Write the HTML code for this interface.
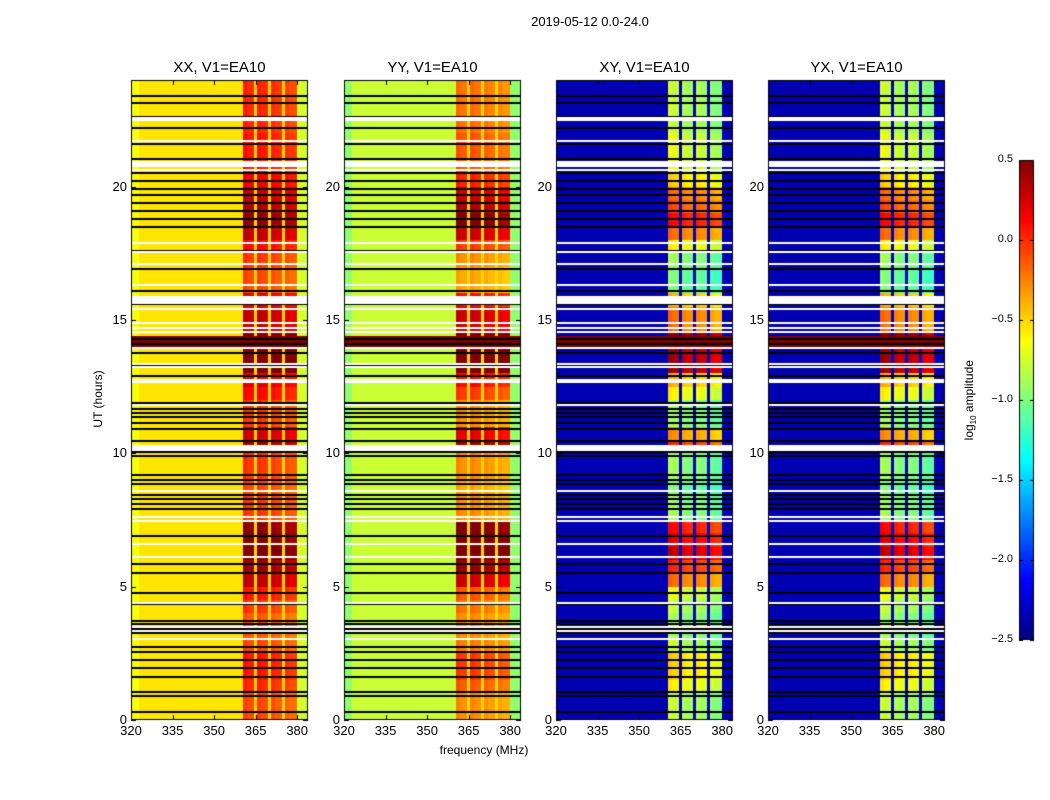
<!DOCTYPE html>
<html><head><meta charset="utf-8">
<style>
body{margin:0;background:#fff;font-family:"Liberation Sans",sans-serif;}
#wrap{position:relative;width:1050px;height:800px;overflow:hidden;background:#fff;}
canvas{position:absolute;left:0;top:0;}
.t{position:absolute;white-space:nowrap;color:#000;}
</style></head><body>
<div id="wrap">
<canvas id="cv" width="1050" height="800"></canvas>
<div class="t" style="left:0;width:1180px;top:14px;text-align:center;font-size:13px">2019-05-12 0.0-24.0</div>
<div class="t" style="left:131px;width:177px;top:59px;text-align:center;font-size:15px">XX, V1=EA10</div>
<div class="t" style="left:344px;width:177px;top:59px;text-align:center;font-size:15px">YY, V1=EA10</div>
<div class="t" style="left:556px;width:177px;top:59px;text-align:center;font-size:15px">XY, V1=EA10</div>
<div class="t" style="left:768px;width:177px;top:59px;text-align:center;font-size:15px">YX, V1=EA10</div>
<div class="t" style="left:384px;width:200px;top:743px;text-align:center;font-size:12px">frequency (MHz)</div>
<div class="t" style="left:48px;top:392px;width:100px;text-align:center;font-size:12px;transform:rotate(-90deg)">UT (hours)</div>
<div class="t" style="left:920px;top:392px;width:100px;text-align:center;font-size:12px;transform:rotate(-90deg)">log<sub style="font-size:8px">10</sub> amplitude</div>
<div id="labels"></div>
</div>
<script>
// ---- data ----
const panelNames = ["XX","YY","XY","YX"];
const xTicks = [320,335,350,365,380];
const yTicks = [0,5,10,15,20];
const cbTicks = [0.5,0.0,-0.5,-1.0,-1.5,-2.0,-2.5];
const cbTickLabels = ["0.5","0.0","\u22120.5","\u22121.0","\u22121.5","\u22122.0","\u22122.5"];
// in-band log amplitude per half hour (0..24h)
const bandXX = [-0.15,-0.15,-0.05,0,0,-0.15,-0.2,-0.2,-0.1,0,0.25,0.35,0.5,0.45,0.4,-0.1,-0.1,-0.15,-0.1,-0.1,0.35,0.2,-0.1,-0.1,0.05,0.15,0.55,0.55,0.6,0.25,0.25,0.15,-0.15,-0.15,-0.1,0.05,0.25,0.4,0.3,0.25,0.1,0,0,0,-0.05,-0.05,-0.05,-0.05];
const bandYY = [-0.35,-0.35,-0.2,-0.1,-0.1,-0.3,-0.35,-0.35,-0.27,-0.19,0.21,0.37,0.61,0.53,0.45,-0.35,-0.35,-0.43,-0.35,-0.35,0.37,0.13,-0.35,-0.35,-0.11,0.05,0.69,0.69,0.77,0.21,0.21,0.05,-0.43,-0.43,-0.35,-0.11,0.21,0.45,0.29,0.21,-0.03,-0.19,-0.19,-0.19,-0.27,-0.27,-0.27,-0.27];
const bandXY = [-0.9,-0.9,-0.7,-0.6,-0.6,-0.9,-1.0,-1.0,-0.9,-0.8,-0.3,-0.1,0.2,0.1,0.0,-1.0,-1.0,-1.1,-1.0,-1.0,-0.1,-0.4,-1.0,-1.0,-0.7,-0.5,0.3,0.3,0.4,-0.3,-0.3,-0.5,-1.1,-1.1,-1.0,-0.7,-0.3,0.0,-0.2,-0.3,-0.6,-0.8,-0.8,-0.8,-0.9,-0.9,-0.9,-0.9];
const bandYX = bandXY;
// background levels: [left edge (<323MHz), main, right (>380MHz)]
const bgXX = [-0.65,-0.55,-0.75];
const bgYY = [-0.95,-0.78,-0.95];
const bgXY = [-2.35,-2.35,-2.35];
const bgYX = [-2.35,-2.35,-2.35];
const subBands = [[360.5,364.5],[365.5,369.5],[370.5,374.5],[375.5,380]];
const subOffXX = [0.05,0.05,0,-0.05];
const subOffXY = [0.1,0,0,-0.1];
const gapXX = -0.5, gapXY = -2.3;
const hotRows = [[14.0,14.4]];
const hotValue = 0.5;
const blackLines = [0.3,0.9,1.05,1.6,1.95,2.25,2.55,2.75,3.05,3.25,3.4,3.5,3.6,3.7,4.35,4.75,5.5,5.85,6.1,6.9,7.45,7.6,7.9,8.1,8.3,8.45,8.6,8.85,9.0,9.2,9.9,10.05,10.45,10.9,11.15,11.35,11.5,11.65,11.9,12.9,13.3,13.75,14.1,14.3,15.6,16.1,16.9,17.6,18.5,18.8,19.1,19.4,19.7,19.9,20.2,20.5,21.05,21.6,22.2,22.6,23.15,23.4];
const whiteBands = [[22.45,22.6],[20.75,20.95],[20.6,20.65],[15.6,15.9],[12.65,12.78],[10.1,10.3]];
const whiteLines = [21.7,17.9,17.55,17.1,16.3,15.4,14.9,14.7,14.55,13.95,13.35,13.25,11.8,8.6,7.6,7.45,6.6,6.1,4.4,3.5,3.35,3.05];

// ---- layout ----
const panelX = [131,344,556,768], PT=80, PW=177, PH=640;
const PX_PER_MHZ = 2.77;
const xs = (p,f)=>panelX[p]+(f-320)*PX_PER_MHZ;
const ys = h=>PT+PH-h*PH/24;
const CB={x:1019,y:160,w:15,h:480,min:-2.5,max:0.5};
function jetArr(v){
  let t=(v+2.5)/3; t=Math.max(0,Math.min(1,t));
  const c=x=>Math.round(255*Math.max(0,Math.min(1,x)));
  return [c(1.5-Math.abs(4*t-3)),c(1.5-Math.abs(4*t-2)),c(1.5-Math.abs(4*t-1))];
}
const jet=v=>{const a=jetArr(v);return `rgb(${a[0]},${a[1]},${a[2]})`;};
const cv=document.getElementById('cv'),ctx=cv.getContext('2d');
const bands=[bandXX,bandYY,bandXY,bandYX], bgs=[bgXX,bgYY,bgXY,bgYX];
function cellValue(p,h,f){
  const cross=p>=2, sub=cross?subOffXY:subOffXX, gap=cross?gapXY:gapXX;
  for(const hr of hotRows){ if(h>=hr[0]&&h<hr[1]) return hotValue; }
  const r=Math.min(bands[p].length-1,Math.floor(h*2));
  let v = f<323?bgs[p][0]:(f>=380?bgs[p][2]:bgs[p][1]);
  if(f>=360.5&&f<380){
    const k=subBands.findIndex(b=>f>=b[0]&&f<b[1]);
    v = k<0 ? gap : bands[p][r]+sub[k]+((f-subBands[k][0])<1.5?0.05:0);
  }
  return v;
}
for(let p=0;p<4;p++){
  const img=ctx.createImageData(PW,PH);
  for(let py=0;py<PH;py++){
    const h=(PH-py-0.5)/PH*24;
    for(let px=0;px<PW;px++){
      const f=320+(px+0.5)/PX_PER_MHZ;
      const c=jetArr(cellValue(p,h,f));
      const i=(py*PW+px)*4;
      img.data[i]=c[0];img.data[i+1]=c[1];img.data[i+2]=c[2];img.data[i+3]=255;
    }
  }
  ctx.putImageData(img,panelX[p],PT);
  ctx.fillStyle='#000';
  blackLines.forEach(h=>ctx.fillRect(panelX[p],Math.round(ys(h))-1,PW,2));
  ctx.fillStyle='#fff';
  whiteBands.forEach(b=>{const y0=Math.round(ys(b[1])),y1=Math.round(ys(b[0]));ctx.fillRect(panelX[p],y0,PW,Math.max(2,y1-y0));});
  whiteLines.forEach(h=>ctx.fillRect(panelX[p],Math.round(ys(h))-1,PW,2));
  // frame & ticks
  ctx.strokeStyle='#000';ctx.lineWidth=1;
  ctx.strokeRect(panelX[p]+0.5,PT+0.5,PW-1,PH-1);
  ctx.beginPath();
  xTicks.forEach(t=>{const x=Math.round(xs(p,t))+0.5;ctx.moveTo(x,PT+PH);ctx.lineTo(x,PT+PH-5);ctx.moveTo(x,PT);ctx.lineTo(x,PT+5);});
  yTicks.forEach(t=>{const y=Math.round(ys(t))+0.5;ctx.moveTo(panelX[p],y);ctx.lineTo(panelX[p]+5,y);ctx.moveTo(panelX[p]+PW,y);ctx.lineTo(panelX[p]+PW-5,y);});
  ctx.stroke();
}
// colorbar
for(let i=0;i<CB.h;i++){const v=CB.max-(i+0.5)/CB.h*(CB.max-CB.min);ctx.fillStyle=jet(v);ctx.fillRect(CB.x,CB.y+i,CB.w,1);}
ctx.strokeStyle='#000';ctx.strokeRect(CB.x+0.5,CB.y+0.5,CB.w-1,CB.h-1);
ctx.beginPath();
cbTicks.forEach(t=>{const y=Math.round(CB.y+(CB.max-t)/(CB.max-CB.min)*CB.h)+0.5;ctx.moveTo(CB.x,y);ctx.lineTo(CB.x+4,y);ctx.moveTo(CB.x+CB.w,y);ctx.lineTo(CB.x+CB.w-4,y);});
ctx.stroke();
// labels
const L=document.getElementById('labels');
function lab(txt,x,y,w,align,size,name){
  const d=document.createElement('div');d.className='t';
  d.style.left=x+'px';d.style.top=y+'px';d.style.width=w+'px';d.style.textAlign=align;d.style.fontSize=size+'px';
  d.textContent=txt;
  
  
  L.appendChild(d);
}
for(let p=0;p<4;p++){
  xTicks.forEach(t=>lab(String(t),xs(p,t)-20,723,40,'center',13,'x-tick-label'));
  yTicks.forEach(t=>lab(String(t),panelX[p]-40,ys(t)-8,36,'right',13,'y-tick-label'));
}
cbTicks.forEach((t,i)=>lab(cbTickLabels[i],CB.x-46,CB.y+(CB.max-t)/(CB.max-CB.min)*CB.h-7,40,'right',11,'colorbar-tick-label'));
</script>
</body></html>
